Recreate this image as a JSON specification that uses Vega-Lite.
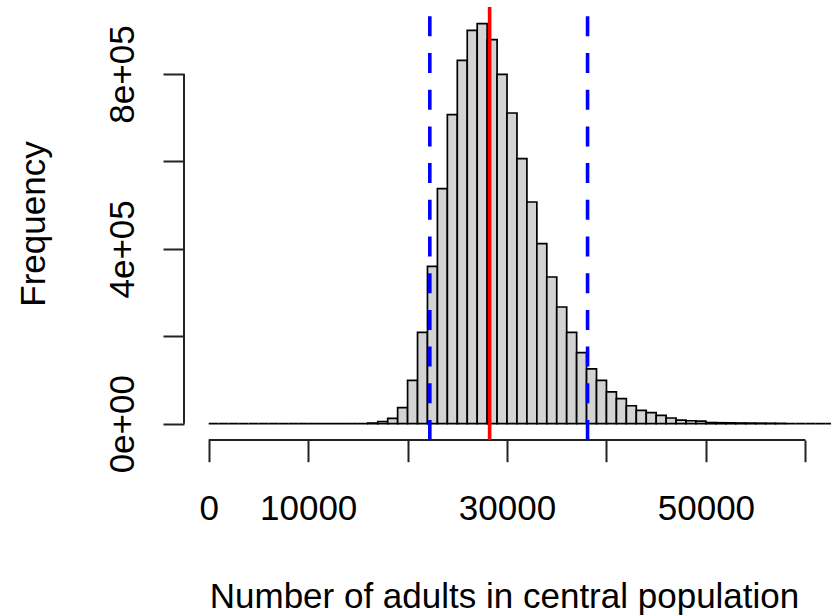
{
  "$schema": "https://vega.github.io/schema/vega-lite/v6.json",
  "width": 647,
  "height": 433,
  "autosize": {"type": "none"},
  "padding": {"left": 184, "top": 7, "right": 0, "bottom": 176},
  "background": "white",
  "config": {
    "view": {"stroke": null},
    "font": "Liberation Sans"
  },
  "layer": [
    {
      "data": {
        "values": [
          {"bin_start": 0, "bin_end": 1000, "count": 0},
          {"bin_start": 1000, "bin_end": 2000, "count": 0},
          {"bin_start": 2000, "bin_end": 3000, "count": 0},
          {"bin_start": 3000, "bin_end": 4000, "count": 0},
          {"bin_start": 4000, "bin_end": 5000, "count": 0},
          {"bin_start": 5000, "bin_end": 6000, "count": 0},
          {"bin_start": 6000, "bin_end": 7000, "count": 0},
          {"bin_start": 7000, "bin_end": 8000, "count": 0},
          {"bin_start": 8000, "bin_end": 9000, "count": 0},
          {"bin_start": 9000, "bin_end": 10000, "count": 0},
          {"bin_start": 10000, "bin_end": 11000, "count": 0},
          {"bin_start": 11000, "bin_end": 12000, "count": 0},
          {"bin_start": 12000, "bin_end": 13000, "count": 0},
          {"bin_start": 13000, "bin_end": 14000, "count": 0},
          {"bin_start": 14000, "bin_end": 15000, "count": 0},
          {"bin_start": 15000, "bin_end": 16000, "count": 0},
          {"bin_start": 16000, "bin_end": 17000, "count": 1500},
          {"bin_start": 17000, "bin_end": 18000, "count": 5000},
          {"bin_start": 18000, "bin_end": 19000, "count": 12000},
          {"bin_start": 19000, "bin_end": 20000, "count": 36600},
          {"bin_start": 20000, "bin_end": 21000, "count": 99000},
          {"bin_start": 21000, "bin_end": 22000, "count": 208900},
          {"bin_start": 22000, "bin_end": 23000, "count": 359900},
          {"bin_start": 23000, "bin_end": 24000, "count": 537600},
          {"bin_start": 24000, "bin_end": 25000, "count": 706900},
          {"bin_start": 25000, "bin_end": 26000, "count": 831100},
          {"bin_start": 26000, "bin_end": 27000, "count": 899800},
          {"bin_start": 27000, "bin_end": 28000, "count": 915100},
          {"bin_start": 28000, "bin_end": 29000, "count": 878500},
          {"bin_start": 29000, "bin_end": 30000, "count": 799100},
          {"bin_start": 30000, "bin_end": 31000, "count": 710800},
          {"bin_start": 31000, "bin_end": 32000, "count": 606200},
          {"bin_start": 32000, "bin_end": 33000, "count": 507200},
          {"bin_start": 33000, "bin_end": 34000, "count": 411800},
          {"bin_start": 34000, "bin_end": 35000, "count": 335600},
          {"bin_start": 35000, "bin_end": 36000, "count": 267000},
          {"bin_start": 36000, "bin_end": 37000, "count": 208900},
          {"bin_start": 37000, "bin_end": 38000, "count": 162400},
          {"bin_start": 38000, "bin_end": 39000, "count": 125200},
          {"bin_start": 39000, "bin_end": 40000, "count": 99100},
          {"bin_start": 40000, "bin_end": 41000, "count": 73000},
          {"bin_start": 41000, "bin_end": 42000, "count": 57200},
          {"bin_start": 42000, "bin_end": 43000, "count": 41100},
          {"bin_start": 43000, "bin_end": 44000, "count": 30400},
          {"bin_start": 44000, "bin_end": 45000, "count": 25200},
          {"bin_start": 45000, "bin_end": 46000, "count": 19000},
          {"bin_start": 46000, "bin_end": 47000, "count": 13000},
          {"bin_start": 47000, "bin_end": 48000, "count": 8000},
          {"bin_start": 48000, "bin_end": 49000, "count": 6800},
          {"bin_start": 49000, "bin_end": 50000, "count": 5800},
          {"bin_start": 50000, "bin_end": 51000, "count": 2600},
          {"bin_start": 51000, "bin_end": 52000, "count": 2200},
          {"bin_start": 52000, "bin_end": 53000, "count": 1900},
          {"bin_start": 53000, "bin_end": 54000, "count": 1600},
          {"bin_start": 54000, "bin_end": 55000, "count": 1400},
          {"bin_start": 55000, "bin_end": 56000, "count": 1200},
          {"bin_start": 56000, "bin_end": 57000, "count": 1000},
          {"bin_start": 57000, "bin_end": 58000, "count": 800},
          {"bin_start": 58000, "bin_end": 59000, "count": 0},
          {"bin_start": 59000, "bin_end": 60000, "count": 0},
          {"bin_start": 60000, "bin_end": 61000, "count": 0},
          {"bin_start": 61000, "bin_end": 62000, "count": 0},
          {"bin_start": 62000, "bin_end": 63000, "count": 0}
        ]
      },
      "mark": {"type": "bar", "fill": "#d3d3d3", "stroke": "#000000", "strokeWidth": 1.7, "opacity": 1},
      "encoding": {
        "x": {
          "field": "bin_start",
          "type": "quantitative",
          "title": "Number of adults in central population",
          "scale": {"domain": [-2484, 62580], "nice": false, "zero": false},
          "axis": {
            "values": [0, 10000, 20000, 30000, 40000, 50000, 60000],
            "domain": false,
            "grid": false,
            "tickSize": 21.7,
            "tickWidth": 2,
            "tickColor": "#222222",
            "labelFont": "Liberation Sans",
            "labelFontSize": 35,
            "labelColor": "#000000",
            "labelPadding": 58,
            "labelBaseline": "alphabetic",
            "labelAlign": "center",
            "labelOverlap": false,
            "labelFlush": false,
            "labelExpr": "datum.value == 20000 || datum.value == 40000 || datum.value == 60000 ? '' : format(datum.value, 'd')",
            "titleFont": "Liberation Sans",
            "titleFontSize": 35,
            "titleFontWeight": "normal",
            "titleColor": "#000000",
            "titleBaseline": "alphabetic",
            "titleAlign": "center",
            "titleAngle": 0,
            "titleX": 320,
            "titleY": 167
          }
        },
        "x2": {"field": "bin_end"},
        "y": {
          "field": "count",
          "type": "quantitative",
          "title": "Frequency",
          "scale": {"domain": [-37290, 953300], "nice": false, "zero": false},
          "axis": {
            "values": [0, 200000, 400000, 600000, 800000],
            "domain": false,
            "grid": false,
            "tickSize": 21,
            "tickWidth": 2,
            "tickColor": "#222222",
            "labelFont": "Liberation Sans",
            "labelFontSize": 35,
            "labelColor": "#000000",
            "labelAngle": -90,
            "labelAlign": "center",
            "labelBaseline": "alphabetic",
            "labelPadding": 30,
            "labelOverlap": false,
            "labelFlush": false,
            "labelExpr": "datum.value == 0 ? '0e+00' : datum.value == 400000 ? '4e+05' : datum.value == 800000 ? '8e+05' : ''",
            "titleFont": "Liberation Sans",
            "titleFontSize": 35,
            "titleFontWeight": "normal",
            "titleColor": "#000000",
            "titleAngle": -90,
            "titleBaseline": "alphabetic",
            "titleAlign": "center",
            "titleX": -140,
            "titleY": 216.5
          }
        },
        "y2": {"datum": 0}
      }
    },
    {
      "data": {"values": [{}]},
      "mark": {"type": "rule", "color": "#222222", "strokeWidth": 2},
      "encoding": {
        "x": {"datum": 0, "type": "quantitative", "title": "Number of adults in central population"},
        "x2": {"datum": 60000},
        "y": {"datum": -37290, "type": "quantitative", "title": "Frequency"}
      }
    },
    {
      "data": {"values": [{}]},
      "mark": {"type": "rule", "color": "#222222", "strokeWidth": 2},
      "encoding": {
        "x": {"datum": -2484, "type": "quantitative", "title": "Number of adults in central population"},
        "y": {"datum": 0, "type": "quantitative", "title": "Frequency"},
        "y2": {"datum": 800000}
      }
    },
    {
      "data": {"values": [{"statistic": "central", "value": 28250}]},
      "mark": {"type": "rule", "color": "#ff0000", "strokeWidth": 3.6},
      "encoding": {
        "x": {"field": "value", "type": "quantitative", "title": "Number of adults in central population"},
        "y": {"datum": -37290, "type": "quantitative", "title": "Frequency"},
        "y2": {"datum": 953300}
      }
    },
    {
      "data": {"values": [{"statistic": "lower", "value": 22236}, {"statistic": "upper", "value": 38100}]},
      "mark": {"type": "rule", "color": "#0000ff", "strokeWidth": 3.6, "strokeDash": [20, 16.7]},
      "encoding": {
        "x": {"field": "value", "type": "quantitative", "title": "Number of adults in central population"},
        "y": {"datum": -37290, "type": "quantitative", "title": "Frequency"},
        "y2": {"datum": 953300}
      }
    }
  ]
}
